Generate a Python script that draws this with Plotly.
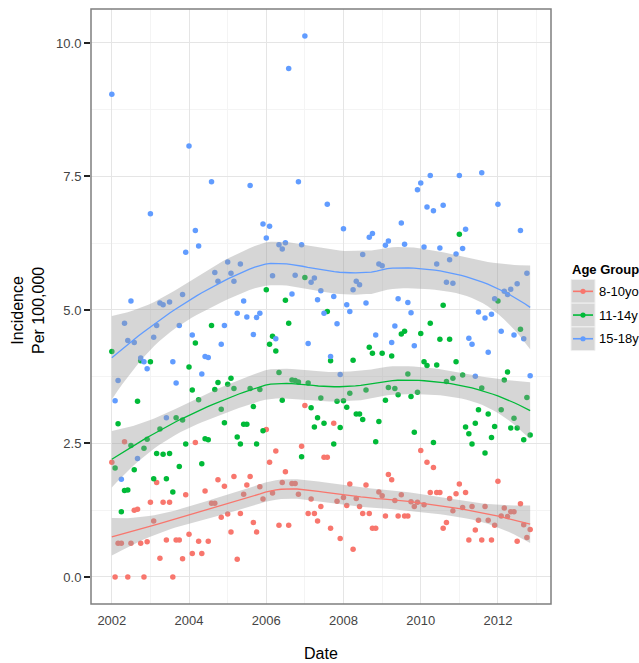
import numpy as np
import pandas as pd
import plotly.graph_objects as go

# ---------------- data ----------------
start_month = "2002-01-01"
n_months = 131
groups = ["8-10yo", "11-14y", "15-18y"]   # legend labels as visible in the reference
colors = ["#F8766D", "#00BA38", "#619CFF"]

red_vals = [2.15, 0.0, 0.63, 0.63, 2.53, 0.0, 0.63, 1.25, 1.27, 0.63,
            0.0, 0.66, 1.4, 1.05, 1.77, 0.35, 1.4, 0.69, 1.4, 0.0,
            0.69, 0.69, 0.34, 1.54, 0.8, 0.44, 2.52, 0.67, 0.44, 1.61,
            0.67, 1.38, 1.38, 1.82, 1.12, 1.7, 1.18, 0.84, 1.88, 0.33,
            1.19, 1.55, 1.72, 1.88, 1.02, 0.84, 1.69, 1.46, 2.76, 2.15,
            1.57, 2.36, 0.97, 1.77, 1.97, 0.97, 1.75, 1.75, 1.55, 2.45,
            3.21, 1.19, 1.46, 1.19, 1.05, 1.32, 2.24, 2.24, 0.91, 2.88,
            1.42, 0.72, 1.49, 1.34, 1.74, 0.52, 1.47, 1.32, 1.19, 1.72,
            1.19, 0.91, 0.91, 1.59, 1.52, 1.14, 1.92, 1.82, 1.43, 1.14,
            1.54, 1.14, 1.14, 1.41, 1.32, 1.4, 2.37, 1.35, 2.15, 1.58,
            2.05, 1.58, 1.58, 0.91, 1.02, 1.47, 1.24, 1.56, 1.74, 1.3,
            1.58, 0.69, 1.32, 0.88, 1.06, 0.69, 1.32, 1.06, 0.69, 0.97,
            1.79, 1.14, 1.29, 1.13, 1.22, 1.22, 0.67, 1.37, 0.98, 0.74,
            0.89]

green_vals = [4.22, 2.04, 2.87, 1.22, 1.62, 1.63, 2.46, 2.01, 3.29, 4.05,
              2.41, 2.58, 4.03, 1.84, 2.31, 2.77, 2.3, 1.84, 2.31, 1.59,
              2.98, 2.07, 2.94, 2.49, 3.93, 3.5, 4.38, 3.32, 2.12, 2.59,
              2.57, 4.71, 3.51, 3.64, 3.14, 2.89, 3.61, 3.72, 3.53, 2.62,
              2.49, 2.86, 2.86, 3.53, 3.19, 2.49, 3.51, 2.74, 5.38, 4.36,
              4.51, 4.23, 3.83, 3.31, 5.18, 4.75, 3.69, 3.68, 3.65, 2.25,
              5.61, 3.63, 3.17, 2.81, 2.98, 3.35, 2.88, 4.97, 4.05, 2.49,
              3.29, 2.8, 3.3, 3.18, 3.44, 4.06, 3.05, 3.05, 2.95, 3.5,
              4.3, 4.19, 2.53, 2.91, 4.19, 3.31, 3.55, 4.14, 3.53, 3.41,
              4.55, 4.6, 3.8, 3.38, 2.71, 3.46, 4.56, 4.03, 3.96, 4.75,
              2.52, 3.97, 4.45, 5.09, 3.66, 4.45, 3.72, 4.03, 6.42, 3.78,
              2.81, 2.68, 2.49, 2.88, 3.13, 3.54, 2.32, 3.05, 2.61, 2.82,
              5.17, 3.13, 3.69, 3.84, 2.79, 2.97, 2.79, 4.64, 2.57, 3.36,
              2.66]

blue_vals = [9.04, 3.3, 3.68, 1.83, 4.75, 4.43, 5.17, 4.39, 2.22, 4.1,
             4.03, 3.9, 6.8, 4.49, 4.71, 5.13, 5.1, 2.98, 5.15, 4.03,
             3.63, 4.71, 5.29, 6.08, 8.07, 4.53, 6.49, 6.2, 3.8, 4.13,
             4.11, 7.4, 5.7, 5.54, 4.36, 4.71, 5.9, 5.69, 5.54, 4.94,
             5.86, 5.17, 4.87, 7.33, 4.54, 4.86, 4.94, 6.61, 6.35, 6.57,
             5.64, 4.46, 6.22, 6.14, 6.26, 9.52, 5.3, 5.65, 7.4, 6.22,
             10.13, 4.37, 5.52, 5.6, 5.19, 5.36, 4.94, 6.98, 4.13, 5.25,
             4.74, 3.79, 6.52, 5.1, 4.97, 5.38, 5.54, 5.47, 6.04, 5.13,
             6.36, 6.43, 4.53, 5.86, 5.83, 6.21, 6.29, 4.39, 4.7, 5.21,
             6.63, 6.23, 5.14, 4.95, 4.33, 7.25, 7.38, 6.18, 6.93, 7.52,
             6.86, 5.86, 6.16, 6.96, 5.52, 5.94, 5.5, 6.05, 7.52, 6.15,
             6.51, 4.47, 4.36, 3.76, 4.96, 7.57, 4.85, 4.21, 4.92, 5.21,
             6.98, 4.6, 5.35, 5.29, 5.39, 4.53, 5.49, 6.49, 4.46, 5.69,
             3.77]

x_tick_vals = ["2002-01-01", "2004-01-01", "2006-01-01", "2008-01-01", "2010-01-01", "2012-01-01"]
x_tick_text = ["2002", "2004", "2006", "2008", "2010", "2012"]
x_minor_vals = ["2001-01-01", "2003-01-01", "2005-01-01", "2007-01-01", "2009-01-01", "2011-01-01", "2013-01-01"]
y_tick_vals = [0, 2.5, 5, 7.5, 10]
y_tick_text = ["0.0", "2.5", "5.0", "7.5", "10.0"]
y_minor_vals = [1.25, 3.75, 6.25, 8.75]

series = [red_vals, green_vals, blue_vals]

# ---------------- loess (span 0.75, degree 2) ----------------
dates = pd.date_range(start_month, periods=n_months, freq="MS")
xnum = (dates - pd.Timestamp("1970-01-01")).days.values / 365.25


def loess_rows(x, x_eval, span=0.75):
    n = len(x)
    q = int(np.floor(n * span))
    rows = []
    for x0 in x_eval:
        d = np.abs(x - x0)
        h = np.sort(d)[q - 1]
        u = d / h
        w = np.where(u < 1, (1 - u ** 3) ** 3, 0.0)
        X = np.column_stack([np.ones(n), x - x0, (x - x0) ** 2])
        XtW = X.T * w
        A = XtW @ X
        rows.append(np.linalg.solve(A, XtW)[0])
    return np.array(rows)


def loess_fit(x, y, n_eval=80):
    y = np.asarray(y, dtype=float)
    xs = np.linspace(x.min(), x.max(), n_eval)
    L = loess_rows(x, x)
    Ls = loess_rows(x, xs)
    fit = Ls @ y
    res = y - L @ y
    IL = np.eye(len(x)) - L
    M = IL.T @ IL
    d1 = np.trace(M)
    sigma = np.sqrt(np.sum(res ** 2) / d1)
    se = sigma * np.sqrt(np.sum(Ls ** 2, axis=1))
    tq = 1.98
    return xs, fit, fit - tq * se, fit + tq * se


fig = go.Figure()

# points
for name, vals, col in zip(groups, series, colors):
    fig.add_trace(go.Scatter(x=dates, y=vals, mode="markers", name=name,
                             marker=dict(color=col, size=5.5, line=dict(width=0)),
                             showlegend=False))

# smooths
for name, vals, col in zip(groups, series, colors):
    xs, fit, lo, hi = loess_fit(xnum, vals)
    xd = pd.to_datetime(xs * 365.25, unit="D", origin="1970-01-01")
    fig.add_trace(go.Scatter(x=list(xd) + list(xd[::-1]), y=list(hi) + list(lo[::-1]),
                             fill="toself", fillcolor="rgba(153,153,153,0.4)",
                             line=dict(width=0), mode="lines", hoverinfo="skip",
                             showlegend=False))
    fig.add_trace(go.Scatter(x=xd, y=fit, mode="lines", line=dict(color=col, width=1.3),
                             showlegend=False))

# ---------------- layout ----------------
W, H = 639, 663
ML, MR, MT, MB = 91, 88, 9, 59
PW, PH = W - ML - MR, H - MT - MB


def px(xp):
    return (xp - ML) / PW


def py(yp):
    return (H - MB - yp) / PH


font_family = "Liberation Sans, Arial, sans-serif"

fig.update_layout(
    width=W, height=H,
    margin=dict(l=ML, r=MR, t=MT, b=MB, pad=0),
    paper_bgcolor="white", plot_bgcolor="white",
    font=dict(family=font_family, color="#000"),
    showlegend=False,
)

fig.update_xaxes(
    type="date",
    range=["2001-06-18", "2013-05-17"],
    tickmode="array", tickvals=x_tick_vals, ticktext=x_tick_text,
    ticks="outside", ticklen=4, tickcolor="rgba(0,0,0,0)",
    tickfont=dict(size=13, color="#444"),
    showgrid=True, gridcolor="#e5e5e5", gridwidth=1.2,
    minor=dict(tickvals=x_minor_vals, showgrid=True, gridcolor="#f4f4f4", gridwidth=1.2, ticks=""),
    zeroline=False, showline=False,
)
fig.update_yaxes(
    range=[-0.5065, 10.6365],
    tickmode="array", tickvals=y_tick_vals, ticktext=y_tick_text,
    ticks="outside", ticklen=6, tickwidth=1.5, tickcolor="#222",
    tickfont=dict(size=13, color="#444"),
    showgrid=True, gridcolor="#e5e5e5", gridwidth=1.2,
    minor=dict(tickvals=y_minor_vals, showgrid=True, gridcolor="#f4f4f4", gridwidth=1.2, ticks=""),
    zeroline=False, showline=False,
)

shapes = [dict(type="rect", xref="paper", yref="paper", x0=0, x1=1, y0=0, y1=1,
               line=dict(color="#7f7f7f", width=1.5), fillcolor="rgba(0,0,0,0)", layer="above")]
annotations = [
    dict(text="Date", xref="paper", yref="paper", x=0.5, y=py(653), xanchor="center", yanchor="middle",
         showarrow=False, font=dict(size=16, color="#000")),
    dict(text="Incidence<br>Per 100,000", xref="paper", yref="paper", x=px(28), y=py(311),
         xanchor="center", yanchor="middle", textangle=-90, showarrow=False,
         font=dict(size=16, color="#000")),
    dict(text="<b>Age Group</b>", xref="paper", yref="paper", x=px(570), y=py(269),
         xanchor="left", yanchor="middle", showarrow=False, font=dict(size=13, color="#000")),
]

# legend (manual, ggplot-like keys)
key_x0, key_x1 = 571, 595
key_tops = [279.5, 303.2, 326.9]
key_h = 23.7
for name, col, top in zip(groups, colors, key_tops):
    cy = top + key_h / 2
    shapes.append(dict(type="rect", xref="paper", yref="paper",
                       x0=px(key_x0), x1=px(key_x1), y0=py(top + key_h), y1=py(top),
                       fillcolor="#d6d6d6", line=dict(color="#f0f0f0", width=1), layer="above"))
    shapes.append(dict(type="line", xref="paper", yref="paper",
                       x0=px(key_x0 + 2), x1=px(key_x1 - 2), y0=py(cy), y1=py(cy),
                       line=dict(color=col, width=1.6), layer="above"))
    shapes.append(dict(type="circle", xref="paper", yref="paper",
                       x0=px(583 - 2.6), x1=px(583 + 2.6), y0=py(cy + 2.6), y1=py(cy - 2.6),
                       fillcolor=col, line=dict(width=0), layer="above"))
    annotations.append(dict(text=name, xref="paper", yref="paper", x=px(597), y=py(cy),
                            xanchor="left", yanchor="middle", showarrow=False,
                            font=dict(size=13, color="#000")))

fig.update_layout(shapes=shapes, annotations=annotations)

fig.write_html("out.html")
